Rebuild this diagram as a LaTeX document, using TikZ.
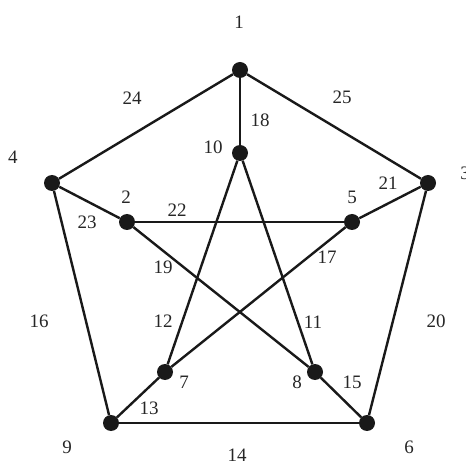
\documentclass[tikz,border=0pt]{standalone}
\usepackage{fontspec}
\setmainfont{Liberation Serif}
\begin{document}
\begin{tikzpicture}[x=1pt,y=-1pt,
  dot/.style={circle,fill=black!90,inner sep=0pt,minimum size=16pt},
  lbl/.style={font=\fontsize{19}{19}\selectfont,text=black!85,inner sep=0pt},
  edge/.style={line width=2.4pt,draw=black!90}]
\useasboundingbox (0,0) rectangle (466,462);
% vertices
\node[dot] (n1) at (240,70) {};
\node[dot] (n2) at (127,222) {};
\node[dot] (n3) at (428,183) {};
\node[dot] (n4) at (52,183) {};
\node[dot] (n5) at (352,222) {};
\node[dot] (n6) at (367,423) {};
\node[dot] (n7) at (165,372) {};
\node[dot] (n8) at (315,372) {};
\node[dot] (n9) at (111,423) {};
\node[dot] (n10) at (240,153) {};
% vertex labels
\node[lbl] (l1) at (239,22) {1};
\node[lbl] (l2) at (126,197) {2};
\node[lbl] (l3) at (465,173) {3};
\node[lbl] (l4) at (13,157) {4};
\node[lbl] (l5) at (352,197) {5};
\node[lbl] (l6) at (409,447) {6};
\node[lbl] (l7) at (184,382) {7};
\node[lbl] (l8) at (297,382) {8};
\node[lbl] (l9) at (67,447) {9};
\node[lbl] (l10) at (213,147) {10};
% edges
\draw[edge] (n1) -- (n4);
\draw[edge] (n1) -- (n3);
\draw[edge] (n1) -- (n10);
\draw[edge] (n4) -- (n2);
\draw[edge] (n4) -- (n9);
\draw[edge] (n3) -- (n5);
\draw[edge] (n3) -- (n6);
\draw[edge] (n2) -- (n5);
\draw[edge] (n2) -- (n8);
\draw[edge] (n5) -- (n7);
\draw[edge] (n10) -- (n7);
\draw[edge] (n10) -- (n8);
\draw[edge] (n7) -- (n9);
\draw[edge] (n8) -- (n6);
\draw[edge] (n9) -- (n6);
% edge labels
\node[lbl] (e24) at (132,98) {24};
\node[lbl] (e25) at (342,97) {25};
\node[lbl] (e18) at (260,120) {18};
\node[lbl] (e23) at (87,222) {23};
\node[lbl] (e22) at (177,210) {22};
\node[lbl] (e21) at (388,183) {21};
\node[lbl] (e19) at (163,267) {19};
\node[lbl] (e17) at (327,257) {17};
\node[lbl] (e16) at (39,321) {16};
\node[lbl] (e12) at (163,321) {12};
\node[lbl] (e11) at (313,322) {11};
\node[lbl] (e20) at (436,321) {20};
\node[lbl] (e13) at (149,408) {13};
\node[lbl] (e15) at (352,382) {15};
\node[lbl] (e14) at (237,455) {14};
\end{tikzpicture}
\end{document}
